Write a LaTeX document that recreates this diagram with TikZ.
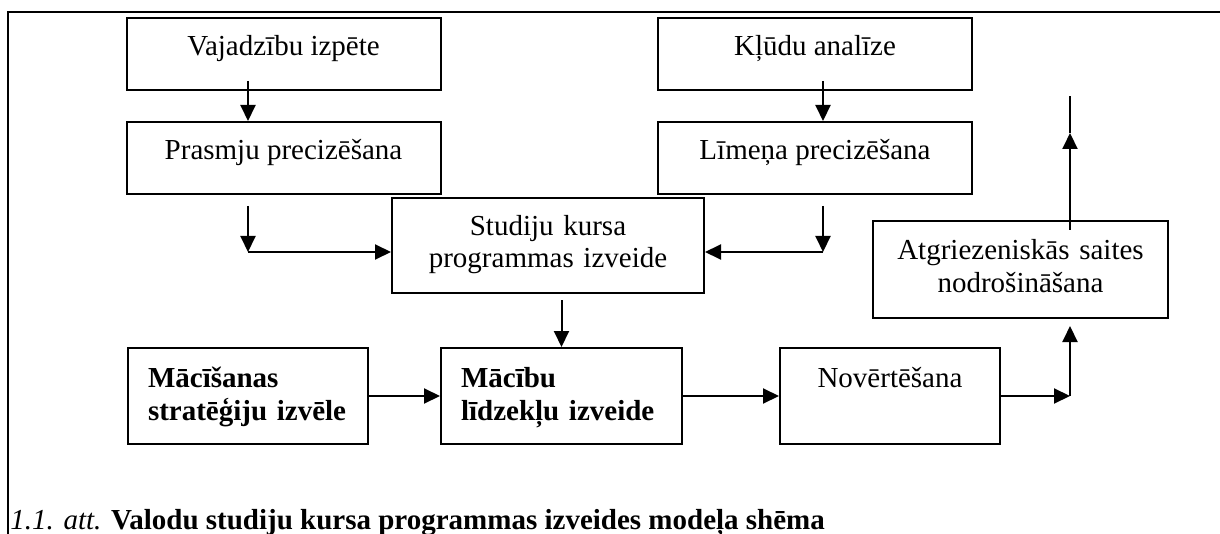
\documentclass[tikz,border=0pt]{standalone}
\usepackage{fontspec}
\setmainfont{Liberation Serif}
\usetikzlibrary{calc,positioning}
\usetikzlibrary{arrows.meta}
\tikzset{>={Triangle[width=7.5pt,length=8pt]}}

\begin{document}
\begin{tikzpicture}[x=0.5pt,y=-0.5pt,
		box/.style={draw, rectangle, line width=1pt, inner xsep=10pt, inner ysep=0pt, align=center, font=\fontsize{14.5}{16.5}\selectfont},
		upper/.style={box, minimum width=157pt, text height=19pt, text depth=17pt},
		lower/.style={box, text height=19.5pt, text depth=28.5pt},
		strong/.style={lower, align=left, font=\fontsize{14.5}{16.5}\selectfont\bfseries},
		link/.style={line width=1pt},
		node distance=15pt,
	]
	\useasboundingbox (0,0) rectangle (1220,534);

	\node[upper] (needs) at (283.5,54) {Vajadzību izpēte};
	\node[upper,below=of needs] (skills) {Prasmju precizēšana};
	\node[upper,right=107.75pt of needs] (errors) {Kļūdu analīze};
	\node[upper,below=of errors] (level) {Līmeņa precizēšana};
	\node[lower,text width=136pt,text height=18.5pt,text depth=29pt] (course) at (548,245.5) {Studiju kursa\\programmas izveide};
	\node[strong,text width=100pt] (strategy) at (248,396) {Mācīšanas\\stratēģiju izvēle};
	\node[strong,text width=100.5pt,right=35.5pt of strategy] (means) {Mācību\\līdzekļu izveide};
	\node[lower,minimum width=110pt,right=48pt of means] (assess) {Novērtēšana};
	\node[lower,inner xsep=5pt,text width=137.5pt,text depth=29pt] (feedback) at (1020.5,269.5) {Atgriezeniskās saites\\nodrošināšana};

	\coordinate (cornerL) at (248,252);
	\coordinate (cornerR) at (823,252);
	\coordinate (cornerN) at (1070,396);
	\coordinate (tipUp) at (1070,133);
	\coordinate (topUp) at (1070,96);

	\draw[link,->] ($(needs.south -| cornerL)+(0,5pt)$) -- (skills.north -| cornerL);
	\draw[link,->] ($(skills.south -| cornerL)+(0,-5.5pt)$) -- (cornerL);
	\draw[link,->] (cornerL) -- (course.west |- cornerL);
	\draw[link,->] ($(errors.south -| cornerR)+(0,5pt)$) -- (level.north -| cornerR);
	\draw[link,->] ($(level.south -| cornerR)+(0,-5.5pt)$) -- (cornerR);
	\draw[link,->] (cornerR) -- (course.east |- cornerR);
	\draw[link,->] ($(course.south -| means.north)+(0,-3pt)$) -- (means.north);
	\draw[link,->] (strategy) -- (means);
	\draw[link,->] (means) -- (assess);
	\draw[link,->] (assess.east) -- (cornerN);
	\draw[link,->] (cornerN) -- ($(feedback.south -| cornerN)+(0,-3.5pt)$);
	\draw[link,->] ($(feedback.north -| cornerN)+(0,-5pt)$) -- (tipUp);
	\draw[link] (tipUp) -- (topUp);

	% frame and caption
	\draw[line width=1.2pt] (8,534) -- (8,12) -- (1220,12);
	\node[anchor=base west, inner sep=0pt, font=\fontsize{14.5}{16.5}\selectfont] (caption) at (10,529) {\textit{1.1. att.} \textbf{Valodu studiju kursa programmas izveides modeļa shēma}};

\end{tikzpicture}
\end{document}
